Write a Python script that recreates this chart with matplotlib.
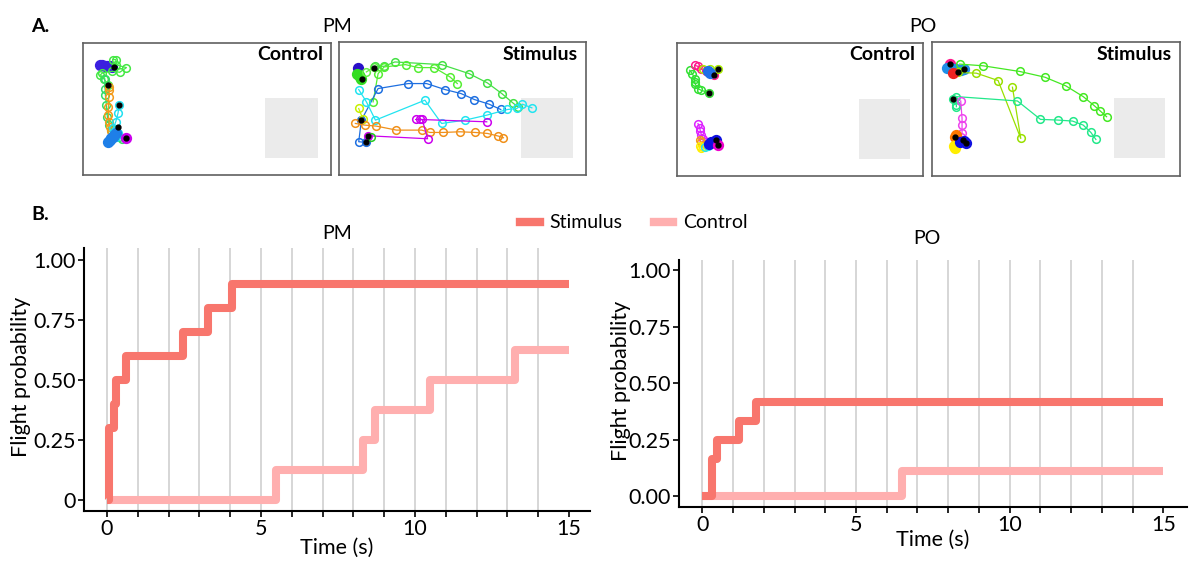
import numpy as np
import matplotlib.pyplot as plt
from matplotlib.lines import Line2D
from matplotlib.patches import Rectangle

plt.rcParams['font.family'] = ['Lato', 'DejaVu Sans']

W, H = 1190, 565
fig = plt.figure(figsize=(W / 100, H / 100), dpi=100)


def px_axes(left, top, right, bottom):
    # axes placed by pixel edges (origin top-left)
    return fig.add_axes([left / W, 1 - bottom / H, (right - left) / W, (bottom - top) / H])


## flight probability curves (time in s, cumulative probability)
pm_stim_t = [0, 0.08, 0.23, 0.29, 0.63, 2.47, 3.28, 4.06, 15]
pm_stim_p = [0, 0.30, 0.40, 0.50, 0.60, 0.70, 0.80, 0.90, 0.90]
pm_ctrl_t = [0, 5.49, 8.30, 8.71, 10.50, 13.24, 15]
pm_ctrl_p = [0, 0.125, 0.25, 0.375, 0.50, 0.625, 0.625]

po_stim_t = [0, 0.33, 0.48, 1.19, 1.74, 15]
po_stim_p = [0, 0.167, 0.25, 0.333, 0.417, 0.417]
po_ctrl_t = [0, 6.51, 15]
po_ctrl_p = [0, 0.111, 0.111]

pm_yticklabels = ['0', '0.25', '0.50', '0.75', '1.00']
po_yticklabels = ['0.00', '0.25', '0.50', '0.75', '1.00']

## trajectories in the arena (pixel units of the tracking frame)
pm_ctrl_tracks = [
    ([62, 68, 75, 82, 90, 98], [74, 75, 76, 77, 78, 79]),
    ([100, 108, 110, 140, 120, 98, 68, 62, 72, 85], [58, 58, 74, 82, 96, 93, 98, 104, 115, 133]),
    ([75, 76, 77, 80, 83, 88, 95, 105, 118, 127], [115, 145, 165, 195, 230, 255, 270, 285, 292, 296]),
    ([88, 89, 87, 86, 86, 88, 90, 93], [140, 150, 170, 200, 225, 245, 262, 272]),
    ([118, 115, 108, 100, 105, 115, 108], [193, 218, 245, 265, 272, 278, 290]),
    ([86, 90, 95, 100, 104, 108], [305, 300, 295, 290, 285, 280]),
    ([140], [293]),
]
pm_ctrl_colors = ['#3b1fe0', '#44e844', '#33dd66', '#f39a1a', '#22e0f0', '#1e7fe8', '#cc00ee']
pm_ctrl_filled = [0, 5, 6]
pm_ctrl_dots_x = [102, 85, 118, 115, 140]
pm_ctrl_dots_y = [80, 133, 193, 260, 293]

pm_stim_tracks = [
    ([70], [82]),
    ([68, 72, 76, 80], [100, 105, 110, 115]),
    ([95, 118], [95, 80]),
    ([120, 148, 180, 320, 402, 457, 500, 533, 548], [78, 78, 65, 73, 100, 128, 160, 188, 200]),
    ([115, 130, 148, 212, 250, 298, 345, 367], [185, 100, 80, 73, 82, 82, 110, 130]),
    ([95, 72, 80, 130, 220, 275, 330, 378, 418, 462, 497], [307, 305, 240, 145, 130, 130, 148, 160, 178, 192, 208]),
    ([72, 95, 122, 270, 320, 390, 455, 517, 545, 562, 590], [148, 185, 240, 180, 250, 240, 225, 208, 205, 192, 203]),
    ([72, 85], [205, 238]),
    ([62, 90, 125, 185, 260, 285, 325, 375, 420, 457, 490, 505], [250, 255, 258, 270, 270, 277, 277, 275, 277, 280, 288, 293]),
    ([100, 278, 262, 243, 255, 455], [287, 296, 238, 238, 238, 245]),
    ([108], [292]),
]
pm_stim_colors = ['#2a10c8', '#33dd22', '#66ee44', '#44e044', '#55ee33', '#1e6fe0',
                  '#22e4f0', '#c8f000', '#f0901a', '#cc00ee', '#22cc22']
pm_stim_filled = [0, 1]
pm_stim_dots_x = [83, 118, 100, 93, 80]
pm_stim_dots_y = [117, 82, 287, 305, 240]

po_ctrl_tracks = [
    ([60, 68, 75, 75, 76, 85, 95, 118], [90, 100, 115, 125, 130, 145, 150, 157]),
    ([75, 85, 95, 110, 125, 133], [75, 78, 85, 92, 98, 105]),
    ([100, 120, 145], [85, 87, 85]),
    ([115, 122], [92, 98]),
    ([85, 90, 92, 95, 100, 110, 125], [250, 262, 272, 283, 295, 305, 312]),
    ([90, 95, 105], [298, 305, 310]),
    ([90, 95, 100], [318, 322, 320]),
    ([105, 115], [320, 318]),
    ([118, 125, 135, 140], [310, 305, 302, 300]),
    ([145], [315]),
]
po_ctrl_colors = ['#33e033', '#ff1a8c', '#aaee00', '#1e6fe8', '#dd22ff', '#f39a1a',
                  '#ffee00', '#22e4f0', '#1010e0', '#ee00cc']
po_ctrl_filled = [3, 8, 9]
po_ctrl_dots_x = [118, 133, 145, 140, 145]
po_ctrl_dots_y = [157, 105, 85, 300, 315]

po_stim_tracks = [
    ([75], [73]),
    ([68, 80, 95, 108, 118], [85, 85, 88, 90, 88]),
    ([105, 175, 285, 360, 423, 475, 508, 525, 545], [73, 78, 95, 112, 138, 170, 197, 212, 230]),
    ([100, 155, 220, 288, 263], [98, 100, 122, 295, 142]),
    ([95, 95, 85, 95, 278, 347, 398, 443, 475, 498, 513], [200, 195, 178, 170, 183, 238, 240, 243, 255, 277, 298]),
    ([108, 112, 112, 112, 108, 100], [183, 235, 255, 280, 290, 295]),
    ([85], [100]),
    ([95, 92], [285, 292]),
    ([88, 92], [318, 322]),
    ([105, 118, 125], [305, 303, 307]),
]
po_stim_colors = ['#ff1a8c', '#1e8fe8', '#44e822', '#99e000', '#22e88a', '#ee44ee',
                  '#ee2222', '#ff7700', '#ffee00', '#1010e0']
po_stim_filled = [0, 1, 6, 7, 8, 9]
po_stim_dots_x = [75, 118, 100, 85, 90, 115, 125]
po_stim_dots_y = [73, 88, 98, 178, 290, 300, 307]

## A. trajectory panels
arenas = [
    # (axes px box, xlim, ylim, target zone, label, tracks, colors, filled, dots)
    ((83, 43, 331, 175), (10, 752), (405, 8), (555, 172, 712, 355), 'Control',
     pm_ctrl_tracks, pm_ctrl_colors, pm_ctrl_filled, (pm_ctrl_dots_x, pm_ctrl_dots_y)),
    ((339, 42, 586, 175), (13, 752), (405, 5), (557, 172, 712, 353), 'Stimulus',
     pm_stim_tracks, pm_stim_colors, pm_stim_filled, (pm_stim_dots_x, pm_stim_dots_y)),
    ((677, 43, 923, 176), (22, 760), (407, 8), (567, 177, 720, 357), 'Control',
     po_ctrl_tracks, po_ctrl_colors, po_ctrl_filled, (po_ctrl_dots_x, po_ctrl_dots_y)),
    ((932, 42, 1180, 176), (22, 765), (407, 7), (567, 173, 720, 353), 'Stimulus',
     po_stim_tracks, po_stim_colors, po_stim_filled, (po_stim_dots_x, po_stim_dots_y)),
]

for box, xl, yl, zone, label, tracks, colors, filled, dots in arenas:
    ax = px_axes(*box)
    ax.set_xlim(*xl)
    ax.set_ylim(*yl)
    ax.set_xticks([])
    ax.set_yticks([])
    for s in ax.spines.values():
        s.set_color('#606060')
        s.set_linewidth(1.2)
    ax.add_patch(Rectangle((zone[0], zone[1]), zone[2] - zone[0], zone[3] - zone[1],
                           facecolor='#ebebeb', edgecolor='none', zorder=0))
    for i, ((xs, ys), c) in enumerate(zip(tracks, colors)):
        face = c if i in filled else 'none'
        size = 7 if i in filled else 5.5
        ax.plot(xs, ys, '-o', color=c, lw=0.9, ms=size, mfc=face, mew=1.1, zorder=2)
    ax.plot(dots[0], dots[1], 'o', color='black', ms=3.5, zorder=3)
    fig.text((box[2] - 8) / W, 1 - (box[1] + 12) / H, label, ha='right', va='center',
             fontsize=14, fontweight='bold')

fig.text(40 / W, 1 - 26 / H, 'A.', ha='center', va='center', fontsize=14, fontweight='bold')
fig.text(337 / W, 1 - 26 / H, 'PM', ha='center', va='center', fontsize=14)
fig.text(923 / W, 1 - 26 / H, 'PO', ha='center', va='center', fontsize=14)
fig.text(40 / W, 1 - 215 / H, 'B.', ha='center', va='center', fontsize=14, fontweight='bold')

## B. flight probability
stim_color = '#f8766d'
ctrl_color = '#ffafaf'

curves = [
    ((84, 248, 590, 511), (-0.747, 15.68), (-0.046, 1.05), pm_stim_t, pm_stim_p,
     pm_ctrl_t, pm_ctrl_p, pm_yticklabels, 'PM', (337, 233), -0.105, -0.103),
    ((679, 260, 1187, 507), (-0.758, 15.77), (-0.047, 1.044), po_stim_t, po_stim_p,
     po_ctrl_t, po_ctrl_p, po_yticklabels, 'PO', (927, 238), -0.094, -0.093),
]

for box, xl, yl, st, sp, ct, cp, ylabels, title, tpos, ylx, xly in curves:
    ax = px_axes(*box)
    ax.set_xlim(*xl)
    ax.set_ylim(*yl)
    for t in range(15):
        ax.axvline(t, color='#cccccc', lw=1.1, zorder=0)
    ax.step(ct, cp, where='post', color=ctrl_color, lw=5.8,
            solid_joinstyle='round', solid_capstyle='butt', zorder=2)
    ax.step(st, sp, where='post', color=stim_color, lw=5.8,
            solid_joinstyle='round', solid_capstyle='butt', zorder=3)
    for side in ('top', 'right'):
        ax.spines[side].set_visible(False)
    for side in ('left', 'bottom'):
        ax.spines[side].set_linewidth(1.5)
    ax.set_xticks(range(16))
    ax.set_xticklabels([str(t) if t % 5 == 0 else '' for t in range(16)])
    ax.set_yticks([0, 0.25, 0.5, 0.75, 1.0])
    ax.set_yticklabels(ylabels)
    ax.tick_params(length=4, width=1.2, labelsize=15.5, pad=2)
    ax.set_xlabel('Time (s)', fontsize=15.5)
    ax.set_ylabel('Flight probability', fontsize=15.5)
    ax.yaxis.set_label_coords(ylx, 0.51)
    ax.xaxis.set_label_coords(0.5, xly)
    fig.text(tpos[0] / W, 1 - tpos[1] / H, title, ha='center', va='center', fontsize=14)

handles = [Line2D([], [], color=stim_color, lw=6), Line2D([], [], color=ctrl_color, lw=6)]
fig.legend(handles, ['Stimulus', 'Control'], loc='center', bbox_to_anchor=(634 / W, 1 - 223 / H),
           ncol=2, frameon=False, fontsize=14, handlelength=1.0, handletextpad=0.5,
           columnspacing=1.6)

fig.savefig('out.png', dpi=100)
